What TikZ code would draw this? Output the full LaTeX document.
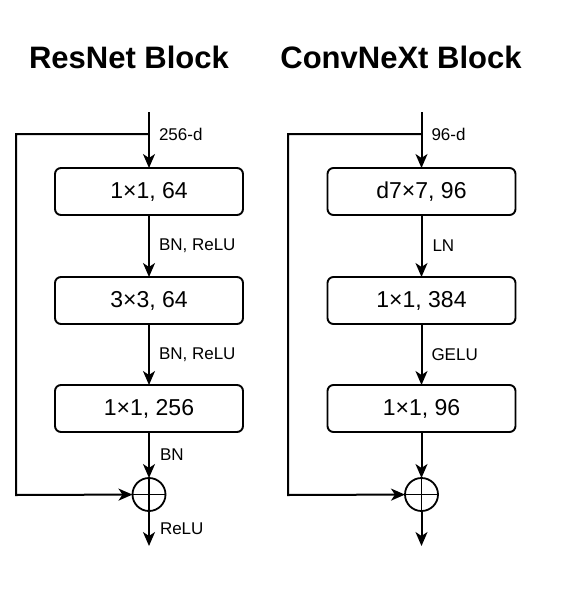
\documentclass[tikz,border=0pt]{standalone}
\usepackage{fontspec}
\setmainfont{Liberation Sans}
\usetikzlibrary{positioning,arrows.meta}

\begin{document}
\begin{tikzpicture}[x=1pt,y=-1pt,line width=2pt,block/.style={draw,line width=1.9pt,outer sep=0pt,rounded corners=6pt,minimum width=188pt,minimum height=47pt,font=\fontsize{23}{27}\selectfont},adder/.style={draw,circle,line width=1.8pt,outer sep=0pt,inner sep=0pt,minimum size=33pt},lbl/.style={inner sep=0pt,font=\fontsize{17}{20}\selectfont},arr/.style={-{Stealth[length=14pt,width=12pt,inset=4pt]}},title/.style={font=\bfseries\fontsize{31}{37}\selectfont}]
	\useasboundingbox (0,0) rectangle (572,594);

	\node[title]	at (129,57)								(t1)	{ResNet Block};
	\node[title]	at (401,57)								(t2)	{ConvNeXt Block};

	\node[block]	at (149,191.5)							(1)		{1×1, 64};
	\node[block,node distance=62pt,below=of 1]				(2)		{3×3, 64};
	\node[block,node distance=61pt,below=of 2]				(3)		{1×1, 256};
	\node[adder,node distance=46pt,below=of 3]				(4)		{};
	\coordinate[below=35pt of 4]							(5);
	\coordinate		(0)		at (149,112);
	\coordinate		(in1)	at (149,134);
	\coordinate		(skip1)	at (16,495);

	\node[block]	at (421.5,191.5)						(11)	{d7×7, 96};
	\node[block,node distance=62pt,below=of 11]				(12)	{1×1, 384};
	\node[block,node distance=61pt,below=of 12]				(13)	{1×1, 96};
	\node[adder,node distance=46pt,below=of 13]				(14)	{};
	\coordinate[below=35pt of 14]							(15);
	\coordinate		(10)	at (421.5,112);
	\coordinate		(in2)	at (421.5,134);
	\coordinate		(skip2)	at (288,495);

	\draw[arr] (0) -- (1);
	\draw[arr] (1) -- node[lbl,right=9pt] {BN, ReLU} (2);
	\draw[arr] (2) -- node[lbl,right=9pt] {BN, ReLU} (3);
	\draw[arr] (3) -- node[lbl,right=10pt] {BN} (4);
	\draw[arr] (4) -- node[lbl,right=10pt] {ReLU} (5);
	\draw[arr] (in1) -| (skip1) -- (4);
	\draw[line width=1.6pt] (4.north) -- (4.south);
	\draw[line width=1.6pt] (4.west) -- (4.east);
	\node[lbl,right=9pt] at (in1) {256-d};

	\draw[arr] (10) -- (11);
	\draw[arr] (11) -- node[lbl,right=10pt] {LN} (12);
	\draw[arr] (12) -- node[lbl,right=9pt] {GELU} (13);
	\draw[arr] (13) -- (14);
	\draw[arr] (14) -- (15);
	\draw[arr] (in2) -| (skip2) -- (14);
	\draw[line width=1.6pt] (14.north) -- (14.south);
	\draw[line width=1.6pt] (14.west) -- (14.east);
	\node[lbl,right=9pt] at (in2) {96-d};
\end{tikzpicture}
\end{document}
